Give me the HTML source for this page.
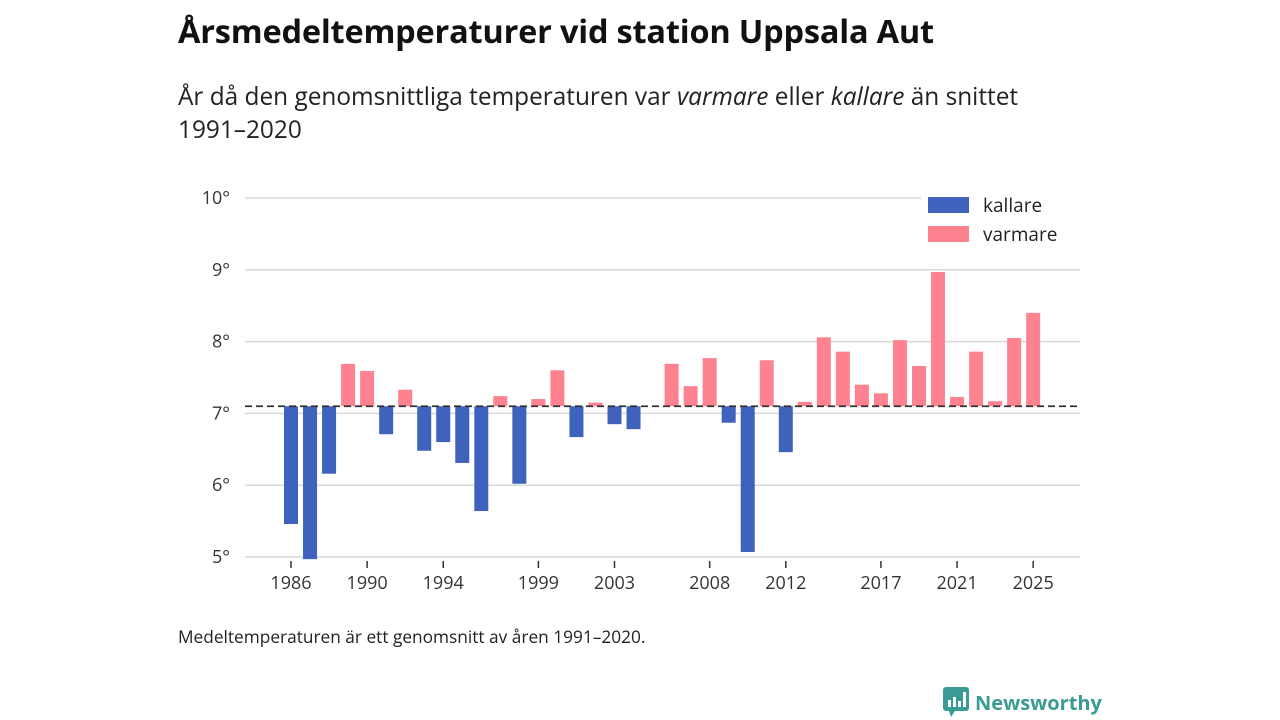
<!DOCTYPE html>
<html><head><meta charset="utf-8"><style>
body{margin:0;width:1280px;height:720px;background:#fff;font-family:"Open Sans","DejaVu Sans","Liberation Sans",sans-serif;color:#222;overflow:hidden;position:relative}
h1{position:absolute;left:178px;top:8px;margin:0;font-size:32.5px;font-weight:bold;color:#111;letter-spacing:-0.2px}
.sub{position:absolute;left:178px;top:80px;font-size:24.4px;line-height:33px;color:#222;width:860px}
.note{position:absolute;left:178px;top:626px;font-size:17.3px;color:#222}
.logo{position:absolute;left:943px;top:687px;font-size:20px;font-weight:bold;color:#3a9a94;display:flex;align-items:center;gap:6px}
</style></head><body>
<h1>Årsmedeltemperaturer vid station Uppsala Aut</h1>
<div class="sub">År då den genomsnittliga temperaturen var <i>varmare</i> eller <i>kallare</i> än snittet 1991–2020</div>
<svg id="chart" width="1280" height="720" style="position:absolute;left:0;top:0"></svg>
<div class="note">Medeltemperaturen är ett genomsnitt av åren 1991–2020.</div>
<div class="logo"><svg width="26" height="30" viewBox="0 0 26 30"><rect x="0" y="0" width="26" height="24" rx="3" fill="#3a9a94"/><polygon points="6,24 12,24 8,30" fill="#3a9a94"/><rect x="5" y="13" width="3" height="7" fill="#fff"/><rect x="10" y="10" width="3" height="10" fill="#fff"/><rect x="15" y="14" width="3" height="6" fill="#fff"/><rect x="20" y="5" width="3" height="15" fill="#fff"/></svg><span>Newsworthy</span></div>
<script>
const years=[1986,1987,1988,1989,1990,1991,1992,1993,1994,1995,1996,1997,1998,1999,2000,2001,2002,2003,2004,2005,2006,2007,2008,2009,2010,2011,2012,2013,2014,2015,2016,2017,2018,2019,2020,2021,2022,2023,2024,2025];
const temps=[5.46,4.97,6.16,7.69,7.59,6.71,7.33,6.48,6.60,6.31,5.64,7.24,6.02,7.20,7.60,6.67,7.15,6.85,6.78,7.1,7.69,7.38,7.77,6.87,5.07,7.74,6.46,7.16,8.06,7.86,7.40,7.28,8.02,7.66,8.97,7.23,7.86,7.17,8.05,8.40];
const baseline=7.1;
const yTicks=[5,6,7,8,9,10];
const xTicks=[1986,1990,1994,1999,2003,2008,2012,2017,2021,2025];
const svg=document.getElementById('chart');const NS='http://www.w3.org/2000/svg';
const y=v=>557-(v-5)*71.8;const x=yr=>291+(yr-1986)*19.03;
function mk(t,a){const e=document.createElementNS(NS,t);for(const k in a)e.setAttribute(k,a[k]);svg.appendChild(e);return e;}
yTicks.forEach(v=>{const g=mk('line',{x1:245,x2:1080,y1:y(v),y2:y(v),stroke:'#d9d9d9','stroke-width':1.5});


const t=mk('text',{x:230,y:y(v)+6,'text-anchor':'end','font-size':18,fill:'#333'});t.textContent=v+'°';

});
xTicks.forEach(yr=>{const l=mk('line',{x1:x(yr),x2:x(yr),y1:561,y2:568,stroke:'#333','stroke-width':1.5});


const t=mk('text',{x:x(yr),y:589,'text-anchor':'middle','font-size':18,fill:'#333'});t.textContent=yr;

});
years.forEach((yr,i)=>{const v=temps[i];if(Math.abs(v-baseline)<0.005)return;const top=Math.min(y(v),y(baseline)),h=Math.abs(y(v)-y(baseline));
const r=mk('rect',{x:x(yr)-7,y:top,width:14,height:h,fill:v>baseline?'#ff8290':'#3f62bd'});

});
const b=mk('line',{x1:245,x2:1080,y1:y(baseline),y2:y(baseline),stroke:'#333','stroke-width':1.8,'stroke-dasharray':'7,4'});


const lg=[['kallare','#3f62bd',205],['varmare','#ff8290',234]];
lg.forEach(([n,c,yy])=>{const bg=mk('rect',{x:921,y:yy-13,width:160,height:28,fill:'#fff'});


const s=mk('rect',{x:928,y:yy-8,width:41,height:16,fill:c});


const t=mk('text',{x:983,y:yy+7,'font-size':19,fill:'#222'});t.textContent=n;

});
</script>
</body></html>
